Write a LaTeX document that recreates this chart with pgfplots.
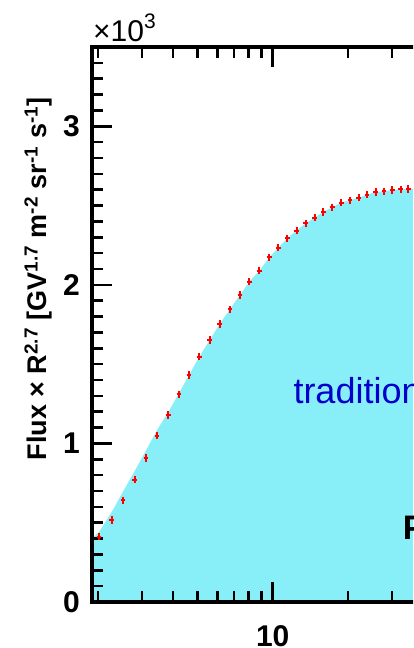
\documentclass[border=0pt]{standalone}
\usepackage{fontspec}
\setmainfont{Liberation Sans}
\usepackage{pgfplots}
\pgfplotsset{compat=1.18}
\definecolor{fillcyan}{RGB}{136,238,248}
\definecolor{txtblue}{RGB}{0,0,204}
\begin{document}
\begin{tikzpicture}
\useasboundingbox (0,0) rectangle (413pt,648pt);
\clip (0,0) rectangle (413pt,648pt);
\begin{axis}[
  at={(92pt,46pt)}, anchor=south west,
  scale only axis, width=430.7pt, height=555pt,
  xmode=log, xmin=1.893, xmax=100, ymin=0, ymax=3.5,
  xtick={10,100}, xticklabels={10,100},
  minor xtick={2,3,4,5,6,7,8,9,20,30,40,50,60,70,80,90},
  ytick={0,1,2,3}, yticklabels={0,1,2,3},
  minor ytick={0.1,0.2,0.3,0.4,0.5,0.6,0.7,0.8,0.9,1.1,1.2,1.3,1.4,1.5,1.6,1.7,1.8,1.9,2.1,2.2,2.3,2.4,2.5,2.6,2.7,2.8,2.9,3.1,3.2,3.3,3.4},
  axis on top,
  axis line style={line width=4pt, draw=black},
  major tick length=20pt, minor tick length=11pt,
  every tick/.style={draw=black, line width=2.5pt},
  every minor tick/.style={draw=black, line width=2.5pt},
  every major tick/.style={draw=black, line width=2.5pt},
  yticklabel style={font=\fontsize{30}{36}\selectfont\bfseries, inner sep=0pt, anchor=east, xshift=-12pt},
  xticklabel style={font=\fontsize{30}{36}\selectfont\bfseries, inner sep=0pt, anchor=north, yshift=-23pt},
]
\addplot[fill=fillcyan, draw=none] table[row sep=\\] {
x y\\
1.893 0.40\\
2.02 0.442\\
2.27 0.567\\
2.519 0.696\\
2.805 0.826\\
3.113 0.956\\
3.445 1.084\\
3.823 1.197\\
4.220 1.318\\
4.627 1.431\\
5.087 1.547\\
5.598 1.652\\
6.138 1.753\\
6.749 1.847\\
7.400 1.936\\
8.061 2.020\\
8.839 2.089\\
9.692 2.173\\
10.53 2.234\\
11.44 2.293\\
12.45 2.342\\
13.56 2.388\\
14.70 2.424\\
15.92 2.459\\
17.32 2.489\\
18.81 2.519\\
20.38 2.533\\
22.08 2.549\\
23.84 2.568\\
25.82 2.585\\
27.87 2.591\\
30.08 2.598\\
32.51 2.602\\
34.87 2.604\\
40.0 2.608\\
60.0 2.58\\
100.0 2.50\\
} \closedcycle;
\addplot[only marks, color=red, mark=+, mark size=2.4pt, mark options={solid, draw=red, line width=2pt, yscale=1.5}] table[row sep=\\] {
x y\\
2.020 0.412\\
2.270 0.517\\
2.519 0.641\\
2.805 0.771\\
3.113 0.908\\
3.445 1.049\\
3.823 1.179\\
4.220 1.310\\
4.627 1.431\\
5.087 1.547\\
5.598 1.652\\
6.138 1.753\\
6.749 1.847\\
7.400 1.936\\
8.061 2.020\\
8.839 2.089\\
9.692 2.173\\
10.53 2.234\\
11.44 2.293\\
12.45 2.342\\
13.56 2.388\\
14.70 2.424\\
15.92 2.459\\
17.32 2.489\\
18.81 2.519\\
20.38 2.533\\
22.08 2.549\\
23.84 2.568\\
25.82 2.585\\
27.87 2.591\\
30.08 2.598\\
32.51 2.602\\
34.87 2.604\\
};
\end{axis}
\node[anchor=base west, inner sep=0pt, font=\fontsize{30}{36}\selectfont] at (93pt,606.3pt) {×10\raisebox{13pt}{\fontsize{21}{21}\selectfont 3}};
\node[rotate=90, anchor=base, inner sep=0pt, font=\fontsize{27}{32}\selectfont\bfseries] at (46.7pt,369pt) {Flux × R\textsuperscript{2.7} [GV\textsuperscript{1.7} m\textsuperscript{-2} sr\textsuperscript{-1} s\textsuperscript{-1}]};
\node[anchor=base west, inner sep=0pt, text=txtblue, font=\fontsize{36}{40}\selectfont] at (293.3pt,244pt) {traditional};
\node[anchor=base west, inner sep=0pt, font=\fontsize{34}{40}\selectfont\bfseries] at (402.7pt,108.7pt) {P};
\end{tikzpicture}
\end{document}
